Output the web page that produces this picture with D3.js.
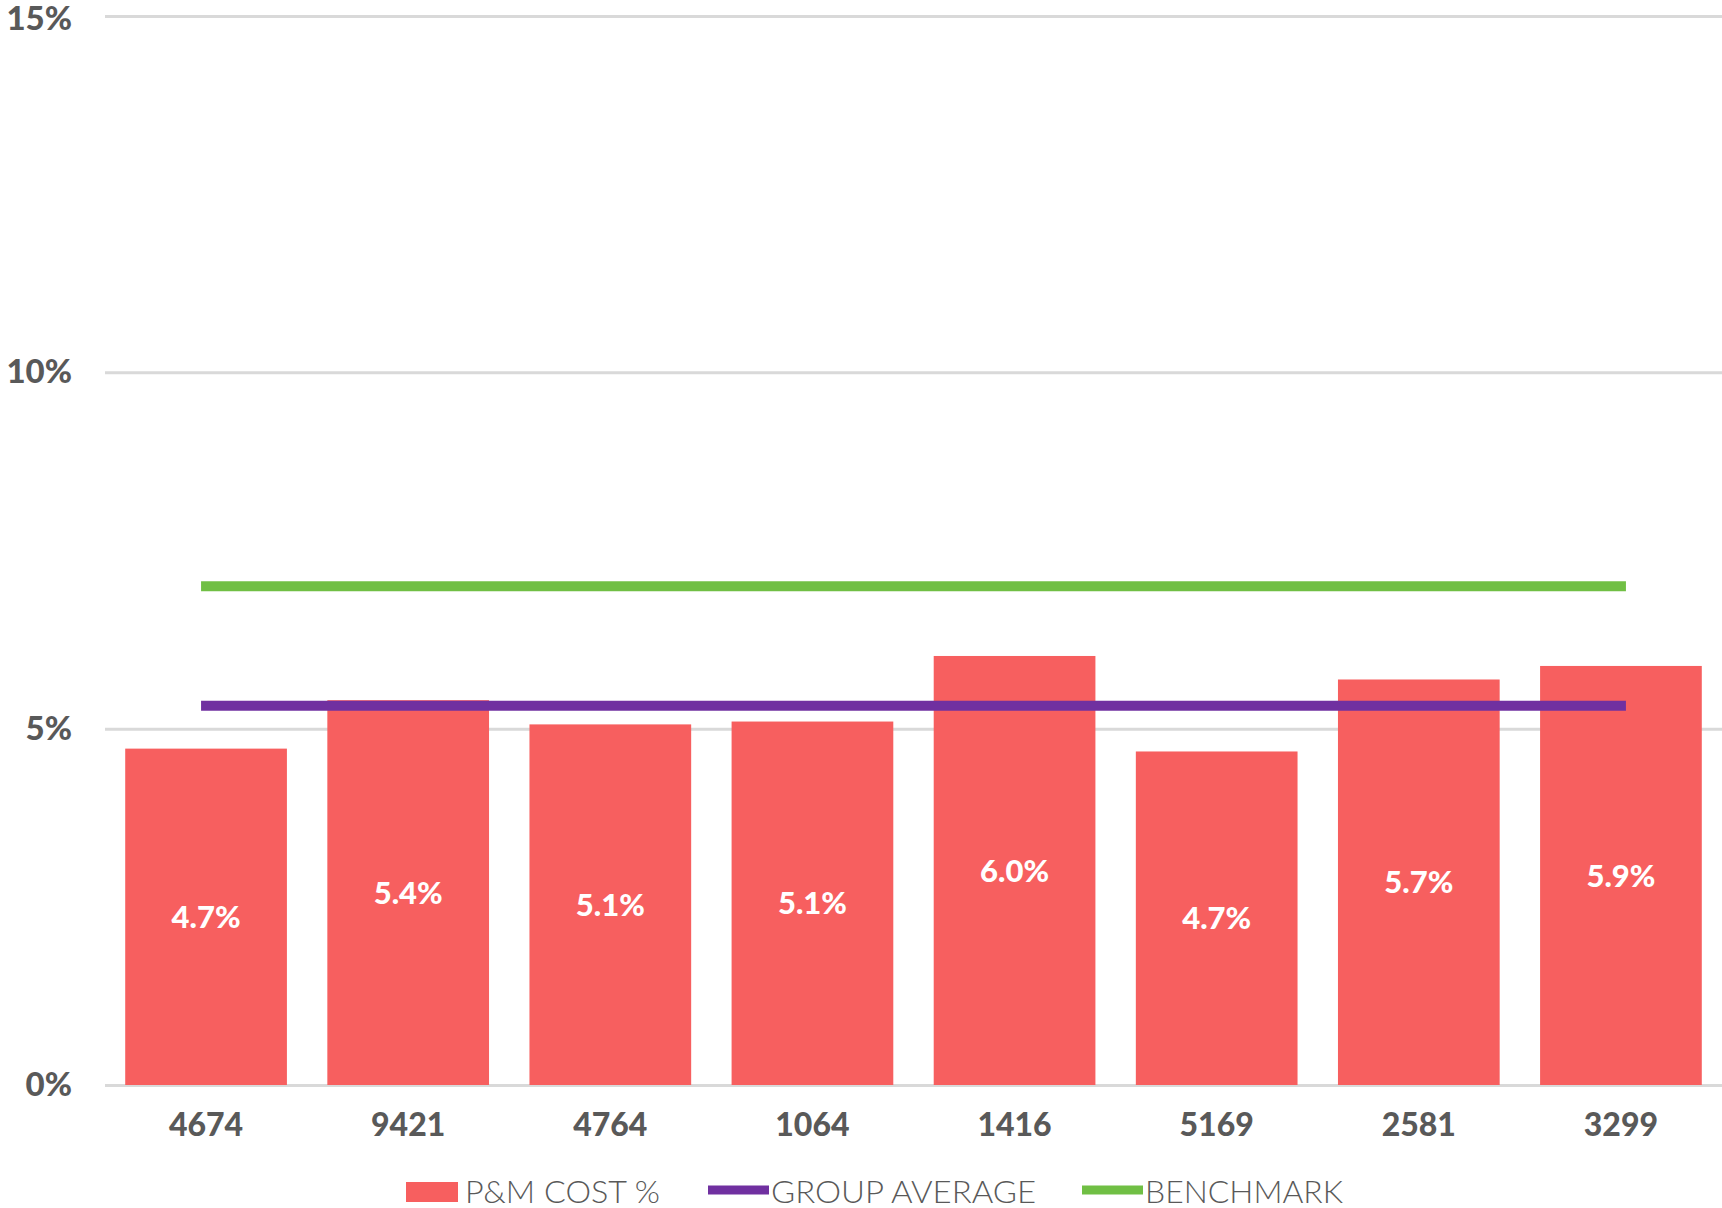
<!DOCTYPE html>
<html>
<head>
<meta charset="utf-8">
<script src="https://cdn.jsdelivr.net/npm/d3@7"></script>
<style>
    body { margin: 0; background: #fff; }
    .tick text { font-family: Lato, "Open Sans", sans-serif; font-weight: 900; fill: #595959; }
</style>
</head>
<body>
<div id="chart"></div>
<script>

// Chart data
const sites = ["4674", "9421", "4764", "1064", "1416", "5169", "2581", "3299"]
const costPct = [4.72, 5.40, 5.06, 5.10, 6.02, 4.68, 5.69, 5.88]
const groupAverage = [5.32, 5.32, 5.32, 5.32, 5.32, 5.32, 5.32, 5.32]
const benchmark = [7.0, 7.0, 7.0, 7.0, 7.0, 7.0, 7.0, 7.0]
const yTicks = [0, 5, 10, 15]
const legendNames = ["P&M COST %", "GROUP AVERAGE", "BENCHMARK"]

const colors = { bar: "#F75F5F", avg: "#7030A0", bench: "#70BF44", grid: "#D9D9D9", text: "#595959" }

// Canvas Size
const W = 1722, H = 1208
const margin = { top: 16, right: 0, bottom: 123, left: 105 },
    width = W - margin.left - margin.right,
    height = H - margin.top - margin.bottom;

const svg = d3.select("#chart")
    .append("svg")
    .attr("width", W)
    .attr("height", H)
    .append("g")
    .attr("transform", `translate(${margin.left},${margin.top})`);

// Scales
const xScale = d3.scaleBand().domain(sites).range([0, width]).paddingInner(0.2).paddingOuter(0.1)
const yScale = d3.scaleLinear().domain([0, 15]).range([height, 0])

// Gridlines + y labels
const yAxis = svg.append("g")
    .attr("class", "y-axis")
    .call(d3.axisLeft(yScale).tickValues(yTicks).tickSize(-width).tickPadding(33).tickFormat(d => d + "%"))
yAxis.select(".domain").remove()
yAxis.selectAll("line").attr("stroke", colors.grid).attr("stroke-width", 3)
yAxis.selectAll("text").attr("font-size", 33)
    .attr("dy", d => d === 15 ? "0.42em" : "0.32em")

// x labels
const xAxis = svg.append("g")
    .attr("class", "x-axis")
    .attr("transform", `translate(0, ${height})`)
    .call(d3.axisBottom(xScale).tickSize(0).tickPadding(28))
xAxis.select(".domain").remove()
xAxis.selectAll("text").attr("font-size", 32)

// Bars
const rows = sites.map((s, i) => ({ site: s, value: costPct[i], avg: groupAverage[i], bench: benchmark[i] }))

svg.append("g")
    .selectAll("rect")
    .data(rows)
    .enter()
    .append("rect")
    .attr("x", d => xScale(d.site))
    .attr("y", d => yScale(d.value))
    .attr("width", xScale.bandwidth())
    .attr("height", d => height - yScale(d.value))
    .attr("fill", colors.bar)

// Bar value labels
svg.append("g")
    .selectAll("text")
    .data(rows)
    .enter()
    .append("text")
    .attr("x", d => xScale(d.site) + xScale.bandwidth() / 2)
    .attr("y", d => (yScale(d.value) + height) / 2)
    .attr("dy", "0.36em")
    .attr("text-anchor", "middle")
    .attr("font-family", "Lato, 'Open Sans', sans-serif")
    .attr("font-weight", 900)
    .attr("font-size", 31)
    .attr("fill", "#fff")
    .text(d => d.value.toFixed(1) + "%")

// Average and benchmark lines
const cx = d => xScale(d.site) + xScale.bandwidth() / 2
const lineAvg = d3.line().x(cx).y(d => yScale(d.avg))
const lineBench = d3.line().x(cx).y(d => yScale(d.bench))

svg.append("path")
    .datum(rows)
    .attr("d", lineBench)
    .attr("fill", "none")
    .attr("stroke", colors.bench)
    .attr("stroke-width", 10)
    .attr("stroke-linecap", "square")

svg.append("path")
    .datum(rows)
    .attr("d", lineAvg)
    .attr("fill", "none")
    .attr("stroke", colors.avg)
    .attr("stroke-width", 10)
    .attr("stroke-linecap", "square")

// Legend
const legend = d3.select("svg").append("g").attr("transform", "translate(0, 1191)")
const legendItems = [
    { name: legendNames[0], x: 406, type: "rect", color: colors.bar, tw: 195 },
    { name: legendNames[1], x: 708, type: "line", color: colors.avg, tw: 265 },
    { name: legendNames[2], x: 1082, type: "line", color: colors.bench, tw: 198 }
]

legendItems.forEach(it => {
    if (it.type === "rect") {
        legend.append("rect").attr("x", it.x).attr("y", -9).attr("width", 52).attr("height", 20).attr("fill", it.color)
    } else {
        legend.append("line").attr("x1", it.x).attr("x2", it.x + 61).attr("y1", -1).attr("y2", -1)
            .attr("stroke", it.color).attr("stroke-width", 9)
    }
    const tx = it.x + (it.type === "rect" ? 59 : 63)
    legend.append("text")
        .attr("x", tx)
        .attr("y", 0)
        .attr("dy", "0.36em")
        .attr("font-family", "Lato, 'Open Sans', sans-serif")
        .attr("font-weight", 300)
        .attr("font-size", 32)
        .attr("fill", colors.text)
        .attr("textLength", it.tw)
        .attr("lengthAdjust", "spacingAndGlyphs")
        .text(it.name)
})

</script>
</body>
</html>
